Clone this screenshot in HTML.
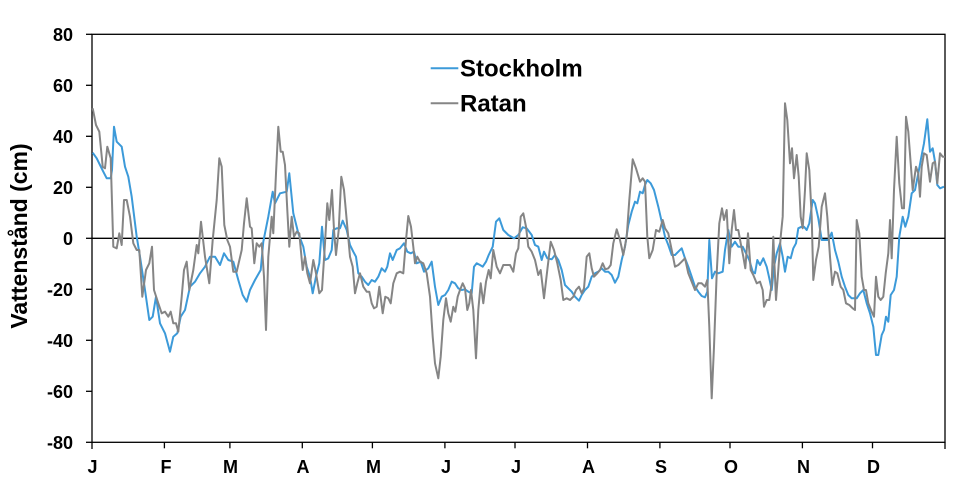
<!DOCTYPE html>
<html><head><meta charset="utf-8">
<style>
html,body{margin:0;padding:0;background:#fff;}
svg{display:block;}
text{font-family:"Liberation Sans",Arial,sans-serif;font-weight:bold;fill:#000;}
</style></head>
<body>
<svg width="971" height="493" viewBox="0 0 971 493" xmlns="http://www.w3.org/2000/svg">
<rect x="0" y="0" width="971" height="493" fill="#fff"/>
<!-- plot border -->
<rect x="92" y="34.3" width="853" height="408" fill="none" stroke="#000" stroke-width="1.3"/>
<!-- zero line -->
<line x1="92" y1="238.3" x2="945" y2="238.3" stroke="#000" stroke-width="1.3"/>
<!-- y ticks -->
<g stroke="#000" stroke-width="1.3">
<line x1="86" y1="34.3" x2="92" y2="34.3"/>
<line x1="86" y1="85.3" x2="92" y2="85.3"/>
<line x1="86" y1="136.3" x2="92" y2="136.3"/>
<line x1="86" y1="187.3" x2="92" y2="187.3"/>
<line x1="86" y1="238.3" x2="92" y2="238.3"/>
<line x1="86" y1="289.3" x2="92" y2="289.3"/>
<line x1="86" y1="340.3" x2="92" y2="340.3"/>
<line x1="86" y1="391.3" x2="92" y2="391.3"/>
<line x1="86" y1="442.3" x2="92" y2="442.3"/>
<!-- x ticks -->
<line x1="92" y1="442.3" x2="92" y2="449"/>
<line x1="164.4" y1="442.3" x2="164.4" y2="448.3"/>
<line x1="229.9" y1="442.3" x2="229.9" y2="448.3"/>
<line x1="302.3" y1="442.3" x2="302.3" y2="448.3"/>
<line x1="372.4" y1="442.3" x2="372.4" y2="448.3"/>
<line x1="444.9" y1="442.3" x2="444.9" y2="448.3"/>
<line x1="515" y1="442.3" x2="515" y2="448.3"/>
<line x1="587.5" y1="442.3" x2="587.5" y2="448.3"/>
<line x1="659.9" y1="442.3" x2="659.9" y2="448.3"/>
<line x1="730" y1="442.3" x2="730" y2="448.3"/>
<line x1="802.4" y1="442.3" x2="802.4" y2="448.3"/>
<line x1="872.5" y1="442.3" x2="872.5" y2="448.3"/>
<line x1="945" y1="442.3" x2="945" y2="449"/>
</g>
<!-- y labels -->
<g font-size="18" text-anchor="end">
<text x="73" y="40.8">80</text>
<text x="73" y="91.8">60</text>
<text x="73" y="142.8">40</text>
<text x="73" y="193.8">20</text>
<text x="73" y="244.8">0</text>
<text x="73" y="295.8">-20</text>
<text x="73" y="346.8">-40</text>
<text x="73" y="397.8">-60</text>
<text x="73" y="448.8">-80</text>
</g>
<!-- x labels -->
<g font-size="18" text-anchor="middle">
<text x="92.5" y="473">J</text>
<text x="166" y="473">F</text>
<text x="230.5" y="473">M</text>
<text x="303" y="473">A</text>
<text x="373.5" y="473">M</text>
<text x="446" y="473">J</text>
<text x="516" y="473">J</text>
<text x="588.5" y="473">A</text>
<text x="661" y="473">S</text>
<text x="731" y="473">O</text>
<text x="803.5" y="473">N</text>
<text x="873.5" y="473">D</text>
</g>
<!-- y title -->
<text x="0" y="0" font-size="23" text-anchor="middle" transform="translate(27,236) rotate(-90)">Vattenstånd (cm)</text>
<!-- Stockholm -->
<polyline fill="none" stroke="#3c9ad9" stroke-width="2" stroke-linejoin="round" points="92.7,152.7 96.7,158.3 100,165 103.3,171.7 106.7,178.3 110.7,178.3 112,170 114,126.7 116.7,141.7 121.7,146.7 125,166.7 128.3,176.7 131.7,196.7 136.7,236.7 140,256.7 145,290 149.3,320 152.7,316.7 156,296.7 160,323.3 165,333.3 170,351.7 173.3,336.7 177.3,333.3 180.7,316.7 185,310 190,286.7 195,281.7 200,273.3 205,266.7 210,256.7 215,256.7 220,265 224,253.3 228.3,260 233.3,261.7 238.3,280 242.7,295 246.7,301.7 250,290 255,280 260.7,270 263.3,241.7 268.3,216.7 272.7,191.7 275,203.3 280,193.3 286.7,191.7 289.3,173.3 293.3,213.3 298.3,233.3 303.3,246.7 306.7,266.7 310,276.7 312.7,293.3 316,276.7 319.3,263.3 322,226.7 325,260 328.3,258.3 331.7,250 333.3,230 336.7,228.3 340,228.3 342.7,220.7 346.7,230 350,245 353.3,251.7 356,256.7 358.3,273.3 361.7,276.7 365,281.7 368.3,285 371.7,280 375,281.7 378.3,276.7 381.7,268.3 385,271.7 387.3,266.7 390,253.3 392.7,260 396.7,250 400,248.3 404,243.3 407.3,251.7 410.7,253.3 414,251.7 416.7,263.3 420.7,261.7 424,271.7 428.3,268.3 431.7,261.7 435,286.7 438.3,305 441.7,296.7 445,295 448.3,290 451.7,281.7 455,283.3 458.3,288.3 461.7,290 465,289.3 468.3,291.7 471.7,293.3 474,266.7 476.7,263.3 480,265 482.7,266.7 486,261.7 488.7,255 492.7,246.7 496,221.7 499.3,218.3 503.3,230 508.3,235 514,238.3 518.3,235 522.7,227.3 526.7,228.3 531.7,235 535,245 538.3,246.7 541.7,260 544,251.7 547.3,258.3 551.7,259.3 555,255 558.3,260 561.7,270 565,285 568.3,288.3 571.7,291.7 575,296.7 579,300.7 581.7,295 585,290 588.3,286.7 591.7,276.7 595,273.3 598.3,271.7 601.7,268.3 605,271.7 608.3,271.7 611.7,275 615,282.7 618.3,276.7 621.7,260 625,246.7 628.3,225 631.7,211.7 635,201.7 637.3,203.3 640,191.7 642.7,193.3 645,185 647.3,180 650.7,183.3 654,190 658.3,206.7 661.7,221.7 665,236.7 668.3,245 671.7,255 675,255 678.3,251.7 681.7,248.3 685,258.3 688.3,266.7 691.7,276.7 695,286.7 698.3,291.7 701.7,296 705,297.3 707.3,291.7 709.3,240 712,278.3 715,271.7 718.3,273.3 720,272.7 722.7,271.7 725,250 728.3,230 731.7,246.7 735,241.7 738.3,246.7 742.7,246.7 746,253.3 749.3,260 752.7,271.7 755,273.3 757.3,260 760,265 763.3,258.3 766.7,266.7 769.3,278.3 771.7,290 774,266.7 776.7,253.3 780,243.3 782.7,256.7 785,271.7 787.7,256.7 790.7,258.3 793.3,248.3 796,243.3 798.3,228.3 801.7,226.7 804,226.7 806.7,230 809.3,223.3 812.7,200 815,203.3 818.3,218.3 821.7,240 825,240 828.3,240 831.7,232.7 835,250 838.3,261.7 841.7,276.7 845,286.7 848.3,295 851.7,298.3 856.7,298.3 860,293.3 863.3,290 866.7,303.3 870,313.3 873.3,326.7 876,355 878.3,355 881.7,335 884,330 886,316.7 888.3,321.7 890.7,295 894,290 896.7,276.7 899.3,236.7 902.7,216.7 905.3,226.7 908.3,216.7 911.7,193.3 915,190 918.3,173.3 921.7,155 924,143.3 927.3,119.3 930,151.7 932.7,148.3 935,161.7 937.3,185 940,188.3 944,186.7"/>
<!-- Ratan -->
<polyline fill="none" stroke="#858585" stroke-width="2" stroke-linejoin="round" points="92.7,108.3 96,125 99.3,131.7 102.7,166.7 105,168.3 107.3,146.7 110.7,158.3 113.3,246.7 116.7,248.3 119.3,233.3 121.7,245 124,200 126.7,200 130,216.7 133.3,243.3 136.7,250 139.3,250 142.3,296.7 146,270 149.3,263.3 152,246.7 154,290 158.3,303.3 161.7,313.3 165,311.7 168.3,316.7 170.7,311.7 173.3,323.3 176,323.3 178.3,331.7 181.7,296.7 184,270 186.7,261.7 189.3,290 193.3,270 196.7,245 198.3,253.3 201,221.7 205,256.7 209.3,283.3 212.7,240 216.7,200 219.3,158.3 221.7,166.7 224.3,225 227.3,240 230,246.7 233.3,271.7 236.7,271.7 241.7,250 244,223.3 246.7,198.3 250,226.7 251.7,228.3 254.3,263.3 256.7,243.3 259.3,246.7 261.7,243.3 264,276.7 266,330 268.3,256.7 271.7,216.7 273.3,233.3 276,173.3 278.3,126.7 280.7,151.7 282.7,151.7 285,165 287.3,210 289.3,246.7 291.7,216.7 294,236.7 296.7,231.7 299.3,233.3 302.7,270 305,256.7 307.3,273.3 310,283.3 313.3,260 316,273.3 319.3,293.3 322,290 325,243.3 327.3,203.3 329.3,220 332,190 334,230 336,255 338.7,230 341.3,176.7 344,190 346.7,220 350,256.7 352.7,266.7 355,293.3 357.3,283.3 360,273.3 363.3,286.7 366.7,291.7 369.3,291.7 371.7,303.3 374,308.3 376.7,306.7 379.3,286.7 382.7,313.3 385.3,296.7 388.3,298.3 390.7,303.3 393.3,283.3 396.7,273.3 400,271.7 403.3,273.3 406,240 408.3,216 411,226.7 413.3,246.7 415,263.3 417.3,256.7 420,261.7 423.3,263.3 426.7,273.3 430,296.7 432.7,336.7 435,363.3 438.3,378.3 440.7,356.7 443.3,320 446,298.3 448.3,313.3 450.7,321.7 453.3,306.7 455.3,311.7 457.7,296.7 460,290 462.7,283.3 465,288.3 467.3,310 469.3,303.3 471,290 473.3,310 476,358.3 478.3,310 480.7,283.3 483.3,303.3 486,281.7 488.7,270 490.7,278.3 493.3,250 496.7,266.7 500,273.3 503.3,265 508.3,265 510,265 513.3,271.7 516,253.3 518.3,248.3 520.7,216.7 523.3,213.3 526,226.7 528.3,246.7 531.7,251.7 535,260 538.3,275 540.7,270 544,298.3 547.3,270 550.7,241.7 554,250 557.3,263.3 560.7,280 563.3,300 566.7,298.3 570,300 573.3,296.7 576,290 579,286.7 581.7,293.3 584,288.3 586.7,256.7 589.3,253.3 591.7,268.3 594,276.7 597.3,273.3 600,270 602.7,263.3 605.3,269.3 608.3,268.3 610.7,265 613.3,243.3 616.7,229.3 620,240 623.3,255 626.7,236.7 629.3,200 632.7,159.3 636,168.3 640,181.7 642.7,178.3 645,181.7 647.3,236.7 649.3,258.3 652.7,250 656,230 659.3,231.7 662.7,220 665,228.3 668.3,233.3 671.7,250 675,266.7 678.3,265 681.7,261.7 685,258.3 688.3,273.3 691.7,281.7 695,290 698.3,283.3 701.7,283.3 705,286.7 707.3,280 709.3,326.7 711.7,398.3 714,346.7 716.7,273.3 719.3,223.3 722,208.3 724,220 726.7,210 729.3,263.3 731.7,230 734,210 736,230 738.3,230 740.7,243.3 743.3,256.7 745.3,268.3 748,233.3 750.7,270 753.3,275 756.7,283.3 760,281.7 762.7,290 764,306.7 766.7,300 769.3,300 771.7,283.3 773.3,236.7 776,300 778.3,270 780.7,236.7 782.7,216.7 785,103.3 787.3,120 790,163.3 792,148.3 794,178.3 796.7,155 798.7,176.7 800.7,216.7 802.7,228.3 805,190 806.7,153.3 809.3,170 811.7,216.7 813.3,280 816,260 818.7,246.7 821.7,206.7 825,193.3 827.3,216.7 830,256.7 832.3,285 835,271.7 837.3,273.3 840.7,286.7 843.3,290 846,303.3 849.3,305 852.7,308.3 855,310 856.7,220 859.3,233.3 861.7,276.7 864,290 866,290 868.3,303.3 871.7,311.7 874,316.7 876,276.7 878.3,296.7 880.7,300 883.3,296.7 885.7,273.3 888.3,253.3 890,220 891.7,258.3 894,190 896.7,136.7 899.3,183.3 902,208.3 904,208.3 906,116.7 908.3,131.7 910.7,163.3 912.7,190 916,166.7 918.3,173.3 920,196.7 921.7,166.7 924,153.3 926.7,155 930,181.7 932.7,163.3 935,161.7 937.3,183.3 940,153.3 942.7,156.7 945,156.7"/>
<!-- legend -->
<line x1="430.7" y1="68.3" x2="458.3" y2="68.3" stroke="#3c9ad9" stroke-width="2"/>
<text x="460" y="76.7" font-size="24">Stockholm</text>
<line x1="430.7" y1="103.3" x2="458.3" y2="103.3" stroke="#858585" stroke-width="2"/>
<text x="460" y="111.7" font-size="24">Ratan</text>
</svg>
</body></html>
